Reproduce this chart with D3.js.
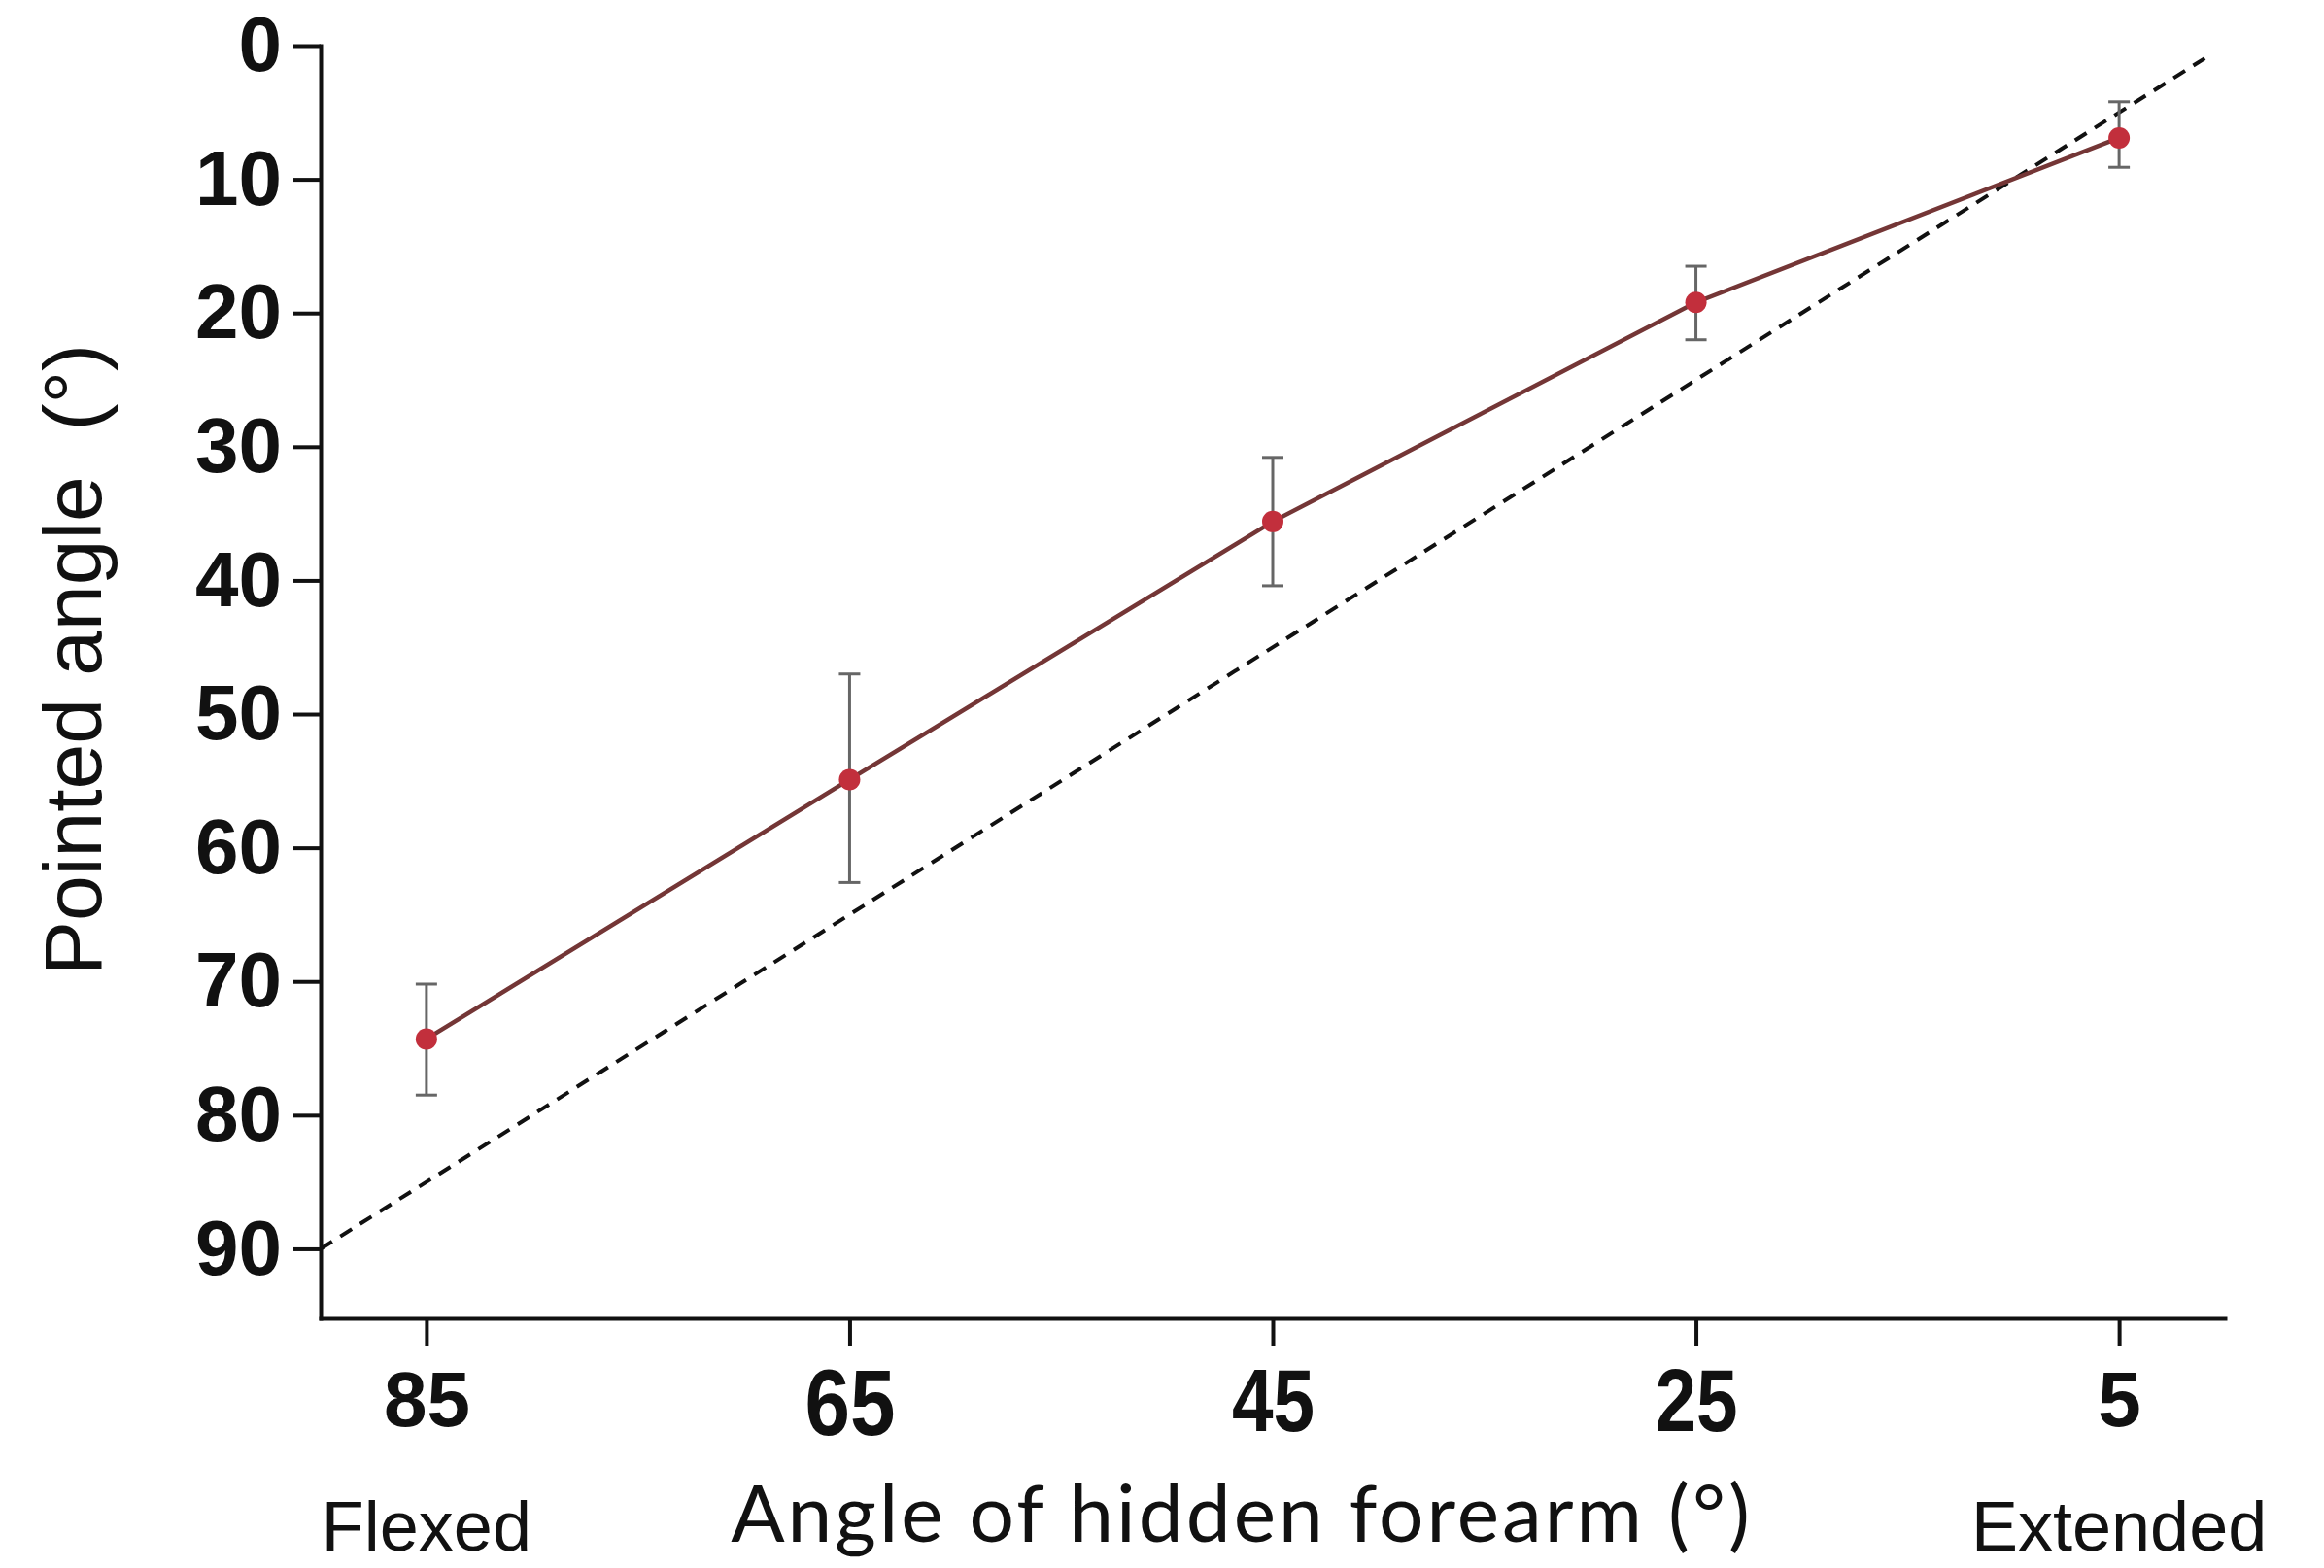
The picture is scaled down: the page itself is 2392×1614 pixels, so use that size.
<!DOCTYPE html>
<html>
<head>
<meta charset="utf-8">
<script src="https://cdn.jsdelivr.net/npm/d3@7"></script>
<style>
  html, body { margin: 0; padding: 0; background: #fff; }
  svg { display: block; }
</style>
</head>
<body>
<svg id="chart" width="2392" height="1614"></svg>
<script>
// ---- data ----
const hiddenAngles = [85, 65, 45, 25, 5];          // x categories (°)
const pointedMean  = [74.3, 54.9, 35.6, 19.2, 6.9]; // mean pointed angle (°)
const errTop       = [70.2, 47.0, 30.8, 16.5, 4.2]; // error bar end (upper on chart)
const errBottom    = [78.5, 62.6, 40.4, 22.0, 9.1]; // error bar end (lower on chart)
const xTickValues  = [85, 65, 45, 25, 5];
const yTickValues  = [0, 10, 20, 30, 40, 50, 60, 70, 80, 90];
const identityLine = [90, 0.8];                     // dashed y = x reference, from/to
const xDomain = [90, 0];
const yDomain = [0, 95.2];
const xTitle = "Angle of hidden forearm (°)";
const yTitle = "Pointed angle  (°)";
const endLabels = ["Flexed", "Extended"];

// ---- layout ----
const svg = d3.select("#chart");
svg.append("rect").attr("width", 2392).attr("height", 1614).attr("fill", "#fff");

const x = d3.scaleLinear().domain(xDomain).range([330, 2290]);
const y = d3.scaleLinear().domain(yDomain).range([47, 1357]);

// identity dashed line
svg.append("line")
  .attr("x1", x(identityLine[0])).attr("y1", y(identityLine[0]))
  .attr("x2", x(identityLine[1])).attr("y2", y(identityLine[1]))
  .attr("stroke", "#111").attr("stroke-width", 4)
  .attr("stroke-dasharray", "14,10");

// axes
const yAxis = d3.axisLeft(y).tickValues(yTickValues).tickSize(28).tickPadding(12).tickSizeOuter(0);
const xAxis = d3.axisBottom(x).tickValues(xTickValues).tickSize(28).tickPadding(26).tickSizeOuter(0);

const gy = svg.append("g").attr("transform", "translate(330,0)").call(yAxis);
const gx = svg.append("g").attr("transform", "translate(0,1357)").call(xAxis);

[gx, gy].forEach(g => {
  g.select(".domain").attr("stroke", "#111").attr("stroke-width", 4).attr("stroke-linecap", "square");
  g.selectAll(".tick line").attr("stroke", "#111").attr("stroke-width", 4);
  g.selectAll(".tick text")
    .attr("fill", "#111")
    .attr("font-family", "'Liberation Sans', Arial, sans-serif")
    .attr("font-weight", "bold")
    .attr("font-size", 80);
});

// x tick labels were pasted with slightly different typography in the original
const xLabelLook = { 65: { size: 96, sx: 0.87 }, 45: { size: 90, sx: 0.85 }, 25: { size: 90, sx: 0.85 } };
gx.selectAll(".tick text").each(function(d) {
  const s = xLabelLook[d];
  if (s) {
    d3.select(this).attr("font-size", s.size)
      .attr("transform", `scale(${s.sx},1)`)
      .attr("y", +d3.select(this).attr("y") - 2);
  }
});

// error bars
const errG = svg.append("g");
hiddenAngles.forEach((a, i) => {
  const cx = x(a);
  errG.append("line").attr("x1", cx).attr("x2", cx)
    .attr("y1", y(errTop[i])).attr("y2", y(errBottom[i]))
    .attr("stroke", "#666").attr("stroke-width", 3);
  [errTop[i], errBottom[i]].forEach(v => {
    errG.append("line").attr("x1", cx - 11).attr("x2", cx + 11)
      .attr("y1", y(v)).attr("y2", y(v))
      .attr("stroke", "#666").attr("stroke-width", 3);
  });
});

// mean line
const pts = hiddenAngles.map((a, i) => [a, pointedMean[i]]);
svg.append("path")
  .attr("d", d3.line().x(d => x(d[0])).y(d => y(d[1]))(pts))
  .attr("fill", "none").attr("stroke", "#743636").attr("stroke-width", 4.5);

// points
svg.append("g").selectAll("circle").data(pts).join("circle")
  .attr("cx", d => x(d[0])).attr("cy", d => y(d[1])).attr("r", 11)
  .attr("fill", "#c22f3c");

// titles
svg.append("text")
  .attr("x", 1278).attr("y", 1587)
  .attr("text-anchor", "middle")
  .attr("font-family", "Lato, 'Open Sans', sans-serif")
  .attr("font-size", 82).attr("letter-spacing", 3).attr("fill", "#111")
  .text(xTitle);

svg.append("text")
  .attr("transform", "translate(104,679) rotate(-90)")
  .attr("text-anchor", "middle")
  .attr("font-family", "'Liberation Sans', Arial, sans-serif")
  .attr("font-size", 84).attr("fill", "#111")
  .style("white-space", "pre")
  .text(yTitle);

svg.append("text")
  .attr("x", x(hiddenAngles[0])).attr("y", 1596)
  .attr("text-anchor", "middle")
  .attr("font-family", "'Liberation Sans', Arial, sans-serif")
  .attr("font-size", 72).attr("fill", "#111")
  .text(endLabels[0]);

svg.append("text")
  .attr("x", x(hiddenAngles[hiddenAngles.length - 1])).attr("y", 1596)
  .attr("text-anchor", "middle")
  .attr("font-family", "'Liberation Sans', Arial, sans-serif")
  .attr("font-size", 72).attr("fill", "#111")
  .text(endLabels[1]);
</script>
</body>
</html>
